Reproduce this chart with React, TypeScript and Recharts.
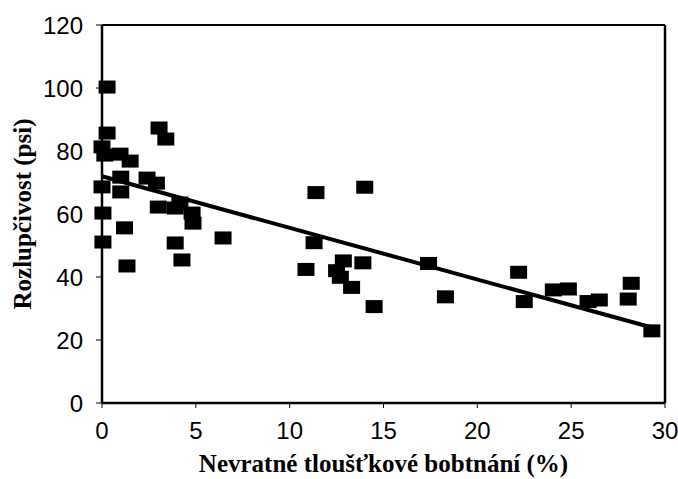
import { ScatterChart, Scatter, XAxis, YAxis, ReferenceLine } from 'recharts';

// Nevratné tloušťkové bobtnání (%) vs. Rozlupčivost (psi)
const swelling = [
    0.27, 0.27, 0, 0.15, 0.96, 1.5, 3.04, 3.4, 1.0, 0, 1.0, 2.4, 2.9, 3.0, 3.9, 4.15,
    4.8, 4.85, 0.05, 1.2, 0.05, 3.9, 6.45, 4.26, 1.33,
    11.4, 14.0, 11.3, 12.86, 13.9, 10.87, 12.5, 12.7, 13.3, 14.5, 17.4, 18.3,
    22.2, 22.5, 24.05, 24.85, 25.9, 26.5, 28.04, 28.2, 29.3,
];
const peel = [
    100.3, 85.7, 81.3, 78.7, 79, 76.8, 87.3, 83.8, 71.7, 68.6, 67, 71.4, 69.8, 62.2, 61.9, 63.5,
    60.3, 57.1, 60.3, 55.6, 51.1, 50.8, 52.4, 45.4, 43.5,
    66.8, 68.5, 50.9, 45.1, 44.5, 42.4, 42, 39.9, 36.7, 30.6, 44.3, 33.7,
    41.5, 32.2, 35.9, 36.2, 32.2, 32.7, 33, 38, 22.9,
];

// regression line end points
const trendX = [0, 29.4];
const trendY = [72, 23.8];

const xTicks = [0, 5, 10, 15, 20, 25, 30];
const yTicks = [0, 20, 40, 60, 80, 100, 120];

const points = swelling.map((x, i) => ({ x, y: peel[i] }));

const tickStyle = { fontSize: 24, fill: '#000', fontFamily: '"Liberation Sans", Arial, sans-serif' };
const labelStyle = {
    fontSize: 25,
    fontWeight: 'bold',
    fill: '#000',
    fontFamily: '"Liberation Serif", "Times New Roman", serif',
};

function Square(props: any) {
    const { cx, cy } = props;
    if (cx == null || cy == null) return null;
    return <rect x={cx - 8.5} y={cy - 6.5} width={17} height={13} fill="#000" />;
}

export default function App() {
    // sits on the page corner so the plot lines up with the reference
    return (
        <div style={{ position: 'absolute', left: 0, top: 0, background: '#fff' }}>
            <ScatterChart
                width={678}
                height={479}
                margin={{ top: 25, right: 13, left: 0, bottom: 0 }}
            >
                <XAxis
                    type="number"
                    dataKey="x"
                    domain={[0, 30]}
                    ticks={xTicks}
                    interval={0}
                    height={76}
                    tick={tickStyle}
                    tickSize={5}
                    tickMargin={14}
                    tickLine={{ stroke: '#000', strokeWidth: 1 }}
                    axisLine={{ stroke: '#000', strokeWidth: 2.5 }}
                    label={{
                        value: 'Nevratné tloušťkové bobtnání (%)',
                        position: 'insideBottom',
                        offset: 7,
                        style: labelStyle,
                    }}
                />
                <YAxis
                    type="number"
                    dataKey="y"
                    domain={[0, 120]}
                    ticks={yTicks}
                    interval={0}
                    width={102}
                    tick={tickStyle}
                    tickSize={6}
                    tickMargin={13}
                    tickLine={{ stroke: '#000', strokeWidth: 1 }}
                    axisLine={{ stroke: '#000', strokeWidth: 2.5 }}
                    label={{
                        value: 'Rozlupčivost (psi)',
                        angle: -90,
                        position: 'insideLeft',
                        offset: 22,
                        style: { ...labelStyle, textAnchor: 'middle' },
                    }}
                />
                <ReferenceLine y={120} stroke="#000" strokeWidth={2} />
                <ReferenceLine x={30} stroke="#000" strokeWidth={2.5} />
                <ReferenceLine
                    segment={[
                        { x: trendX[0], y: trendY[0] },
                        { x: trendX[1], y: trendY[1] },
                    ]}
                    stroke="#000"
                    strokeWidth={4}
                />
                <Scatter data={points} shape={Square} isAnimationActive={false} />
            </ScatterChart>
        </div>
    );
}
